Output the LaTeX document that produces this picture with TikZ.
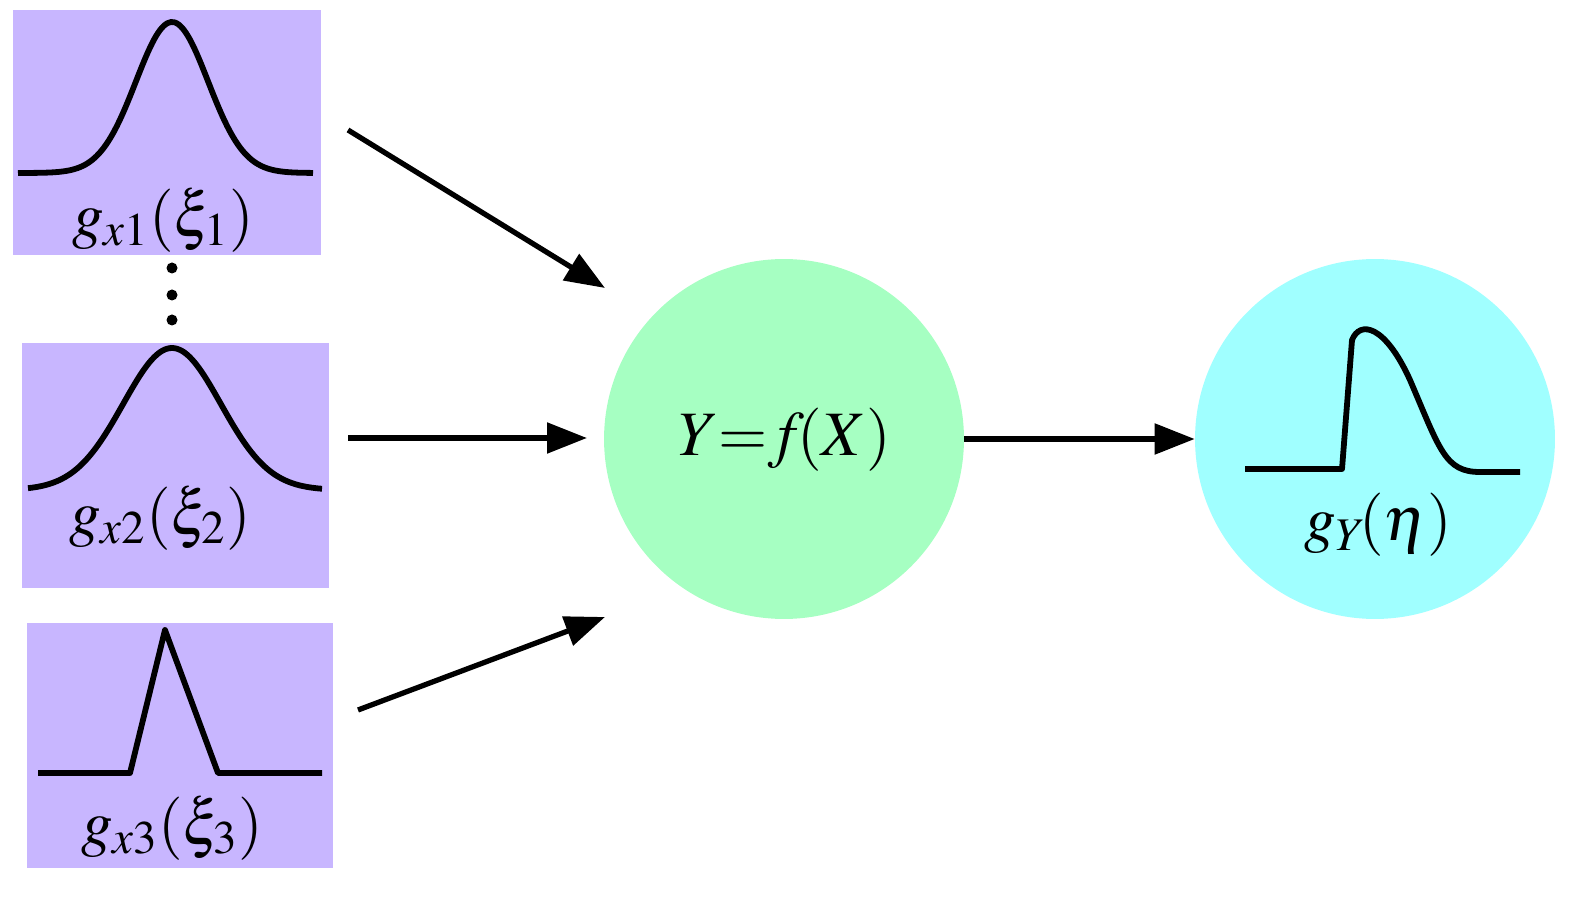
\documentclass[tikz,border=0pt]{standalone}
\usepackage{mathptmx}
\usetikzlibrary{arrows.meta}
\begin{document}
\begin{tikzpicture}[x=0.02cm,y=-0.02cm,
  box/.style={fill={rgb,255:red,200;green,182;blue,255},draw=none},
  curve/.style={line width=3.3pt,line join=round},
  arr/.style={line width=3pt,-{Triangle[length=0.8cm,width=0.6cm]}},
  lab/.style={font=\fontsize{36}{40}\selectfont,inner sep=0}]
\useasboundingbox (0,0) rectangle (1591,901);
\fill[box] (13,10) rectangle (321,255);
\fill[box] (22,343) rectangle (329,588);
\fill[box] (27,623) rectangle (333,868);
\node[circle,minimum size=7.2cm,inner sep=0,fill={rgb,255:red,166;green,255;blue,194}] (f) at (784,439) {};
\node[circle,minimum size=7.2cm,inner sep=0,fill={rgb,255:red,160;green,255;blue,255}] (g) at (1375,439) {};
\node[lab] (ft) at (785,440) {$Y\!\!=\!\!f\!(X)$};
\node[lab] (gt) at (1378,525) {$g_Y\!(\eta)$};
\node[lab] (l1) at (163,220) {$g_{x1}(\xi_1)$};
\node[lab] (l2) at (160,518) {$g_{x2}(\xi_2)$};
\node[lab] (l3) at (172,828) {$g_{x3}(\xi_3)$};
\draw[curve] plot[domain=18:313,samples=80,smooth] (\x,{173-151*exp(-((\x-172)/51)^2)});
\draw[curve] plot[domain=28:322,samples=80,smooth] (\x,{490-142*exp(-((\x-172)/69)^2)});
\draw[curve] (38,773)--(130,773)--(165,630)--(218,773)--(322,773);
\draw[curve] (1245,469)--(1342,469)--(1352,340) .. controls (1360,320) and (1385,325) .. (1410,380) .. controls (1440,450) and (1445,472) .. (1480,472) -- (1520,472);
\foreach \y in {268,295,320} \fill (172,\y) circle (5.5);
\coordinate (a1) at (348,130); \coordinate (a2) at (348,438); \coordinate (a3) at (358,710);
\draw[arr] (a1) -- (605,288);
\draw[arr] (a2) -- (587,438);
\draw[arr] (a3) -- (605,617);
\draw[arr] (f.east) -- (g.west);
\end{tikzpicture}
\end{document}
